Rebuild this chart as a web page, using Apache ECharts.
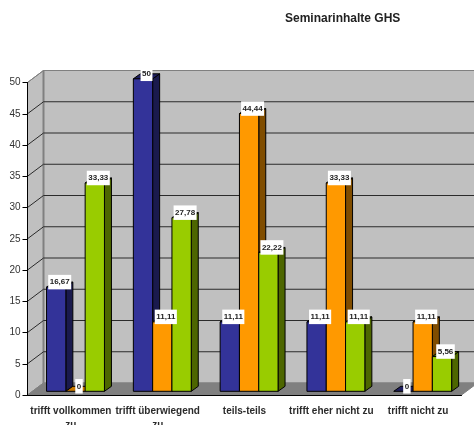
<!DOCTYPE html>
<html>
<head>
<meta charset="utf-8">
<style>html,body{margin:0;padding:0;background:#fff}#chart{width:474px;height:425px}</style>
<script src="https://cdn.jsdelivr.net/npm/echarts@6/dist/echarts.min.js"></script>
</head>
<body>
<div id="chart"></div>
<script>
const titleText = 'Seminarinhalte GHS';
const categories = ['trifft vollkommen\nzu', 'trifft überwiegend\nzu', 'teils-teils', 'trifft eher nicht zu', 'trifft nicht zu'];
const blueValues = [16.67, 50, 11.11, 11.11, 0];
const orangeValues = [0, 11.11, 44.44, 33.33, 11.11];
const greenValues = [33.33, 27.78, 22.22, 11.11, 5.56];
const yTicks = [0, 5, 10, 15, 20, 25, 30, 35, 40, 45, 50];

// Oblique projection offsets for the fake 3D look, in pixels
const WALL_DX = 16, WALL_DY = 12;
const BAR_DX = 7, BAR_DY = 5;
const FLOOR_SHIFT_X = 4.6, FLOOR_SHIFT_Y = 3.7;
const BAR_RATIO = 19.3 / 86.8;
const FONT = '"Liberation Sans", Arial, sans-serif';

function poly(points, fill, stroke, lineWidth) {
  return { type: 'polygon', shape: { points }, style: { fill, stroke, lineWidth } };
}
function seg(x1, y1, x2, y2, stroke, lineWidth) {
  return { type: 'line', shape: { x1, y1, x2, y2 }, style: { stroke, lineWidth } };
}

// Side wall, back wall, floor and the gridlines that run across them
function renderWalls(params, api) {
  const cs = params.coordSys;
  const left = cs.x, right = cs.x + cs.width;
  const v = api.value(0);
  const y = api.coord([0, v])[1];
  const children = [];
  if (params.dataIndex === 0) {
    const bottom = cs.y + cs.height, top = cs.y;
    children.push(
      poly([[left + WALL_DX, top - WALL_DY], [right + WALL_DX, top - WALL_DY], [right + WALL_DX, bottom - WALL_DY], [left + WALL_DX, bottom - WALL_DY]], '#c0c0c0', '#808080', 1),
      poly([[left, top], [left + WALL_DX, top - WALL_DY], [left + WALL_DX, bottom - WALL_DY], [left, bottom]], '#c0c0c0', '#808080', 1),
      poly([[left, bottom], [left + WALL_DX, bottom - WALL_DY], [right + WALL_DX, bottom - WALL_DY], [right, bottom]], '#808080', '#808080', 1),
      seg(left + WALL_DX, top - WALL_DY, left + WALL_DX, bottom - WALL_DY, '#808080', 2)
    );
  }
  if (v > 0) {
    const grid = v === 50 ? '#808080' : '#2b2b2b';
    children.push(seg(left, y, left + WALL_DX, y - WALL_DY, grid, 1));
    children.push(seg(left + WALL_DX, y - WALL_DY, right + WALL_DX, y - WALL_DY, grid, 1));
  }
  return { type: 'group', children };
}

// One 3D column: front face, right side, top face and its value tag
function barRenderer(slot, front, side, top) {
  return function (params, api) {
    const cat = api.value(0), val = api.value(1);
    const band = api.size([1, 0])[0];
    const w = band * BAR_RATIO;
    const x0 = api.coord([cat, 0])[0] + FLOOR_SHIFT_X + (slot - 1.5) * w;
    const x1 = x0 + w;
    const yBase = api.coord([cat, 0])[1] - FLOOR_SHIFT_Y;
    const yTop = api.coord([cat, val])[1] - FLOOR_SHIFT_Y;
    const children = [];
    if (val > 0) {
      children.push(poly([[x1, yBase], [x1 + BAR_DX, yBase - BAR_DY], [x1 + BAR_DX, yTop - BAR_DY], [x1, yTop]], side, '#000', 1));
      children.push(poly([[x0, yTop], [x0 + BAR_DX, yTop - BAR_DY], [x1 + BAR_DX, yTop - BAR_DY], [x1, yTop]], top, '#000', 1));
      children.push(poly([[x0, yBase], [x1, yBase], [x1, yTop], [x0, yTop]], front, '#000', 1));
    } else {
      children.push(poly([[x0, yBase], [x0 + BAR_DX, yBase - BAR_DY], [x1 + BAR_DX, yBase - BAR_DY], [x1, yBase]], top, '#000', 1));
    }
    children.push({
      type: 'text',
      z2: 100,
      x: (x0 + x1) / 2 + BAR_DX / 2,
      y: yTop - 5,
      style: {
        text: String(val).replace('.', ','),
        font: 'bold 8px ' + FONT,
        fill: '#222',
        align: 'center',
        verticalAlign: 'middle',
        backgroundColor: '#fff',
        padding: [3.5, 1.5, 3, 1.5]
      }
    });
    return { type: 'group', children };
  };
}

function barSeries(name, values, slot, front, side, top) {
  return {
    name,
    type: 'custom',
    renderItem: barRenderer(slot, front, side, top),
    encode: { x: 0, y: 1 },
    data: values.map((v, i) => [i, v])
  };
}

const chart = echarts.init(document.getElementById('chart'), null, { renderer: 'canvas' });
chart.setOption({
  animation: false,
  backgroundColor: '#fff',
  title: {
    text: titleText,
    left: 280,
    top: 8,
    textStyle: { fontFamily: FONT, fontSize: 12, fontWeight: 'bold', color: '#222' }
  },
  grid: { left: 27.5, top: 82.5, width: 434, height: 312.5, outerBoundsMode: 'none', containLabel: false },
  xAxis: {
    type: 'category',
    data: categories,
    boundaryGap: true,
    axisLine: { lineStyle: { color: '#000', width: 1 } },
    axisTick: { length: 5, alignWithLabel: false, lineStyle: { color: '#000' } },
    axisLabel: {
      interval: 0,
      margin: 9,
      lineHeight: 14,
      fontFamily: FONT,
      fontSize: 10,
      fontWeight: 'bold',
      color: '#2b2b2b'
    },
    z: 5
  },
  yAxis: {
    type: 'value',
    min: 0,
    max: 50,
    interval: 5,
    splitLine: { show: false },
    axisLine: { show: true, lineStyle: { color: '#000', width: 1 } },
    axisTick: { show: true, length: 5, lineStyle: { color: '#000' } },
    axisLabel: { margin: 7, fontFamily: FONT, fontSize: 10, color: '#333' },
    z: 5
  },
  series: [
    { name: 'walls', type: 'custom', renderItem: renderWalls, encode: { y: 0 }, data: yTicks.map(v => [v]), z: 1 },
    barSeries('blue', blueValues, 0, '#333399', '#1a1a4d', '#1f1f60'),
    barSeries('orange', orangeValues, 1, '#ff9900', '#804d00', '#c87800'),
    barSeries('green', greenValues, 2, '#99cc00', '#4d6600', '#5c7a00')
  ]
});
</script>
</body>
</html>
